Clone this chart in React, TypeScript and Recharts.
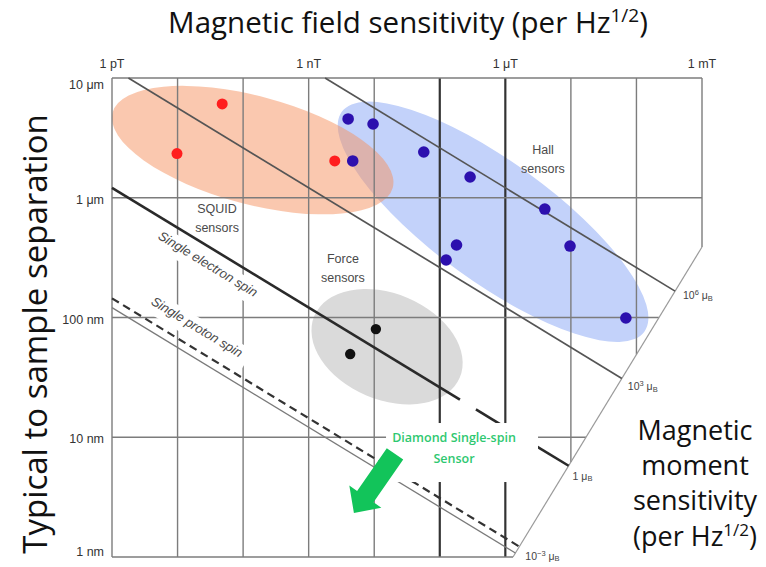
import React from 'react';
import { ScatterChart, Scatter, XAxis, YAxis } from 'recharts';

// ---------- data (magnetic field in nT, separation in nm) ----------
const fieldTicks = [1e-3, 1, 1e3, 1e6];
const fieldTickLabels = ['1 pT', '1 nT', '1 μT', '1 mT'];
const separationTicks = [1, 10, 100, 1000, 10000];
const separationTickLabels = ['1 nm', '10 nm', '100 nm', '1 μm', '10 μm'];

const squidSensors = [
  { x: 0.0098, y: 2340 },
  { x: 0.048, y: 6070 },
  { x: 2.5, y: 2030 },
];
const hallSensors = [
  { x: 4.0, y: 4550 },
  { x: 9.6, y: 4130 },
  { x: 4.7, y: 2030 },
  { x: 57, y: 2410 },
  { x: 290, y: 1490 },
  { x: 4000, y: 805 },
  { x: 180, y: 403 },
  { x: 125, y: 302 },
  { x: 9700, y: 395 },
  { x: 69000, y: 99 },
];
const forceSensors = [
  { x: 10.6, y: 80 },
  { x: 4.3, y: 49.5 },
];

const squidRegion = [{ x: 0.14, y: 2500 }];
const hallRegion = [{ x: 650, y: 630 }];
const forceRegion = [{ x: 15.7, y: 57 }];

// grid lines (clipped by the slanted moment axis)
const fieldGridLines = [
  { field: 1e-3, top: 1e4, bottom: 1 },
  { field: 1e-2, top: 1e4, bottom: 1 },
  { field: 1e-1, top: 1e4, bottom: 1 },
  { field: 1, top: 1e4, bottom: 1 },
  { field: 10, top: 1e4, bottom: 1 },
  { field: 100, top: 1e4, bottom: 1 },
  { field: 1e3, top: 1e4, bottom: 1 },
  { field: 1e4, top: 1e4, bottom: 6.2 },
  { field: 1e5, top: 1e4, bottom: 49 },
  { field: 1e6, top: 1e4, bottom: 388 },
];
const separationGridLines = [
  { sep: 1e4, left: 1e-3, right: 1e6 },
  { sep: 1e3, left: 1e-3, right: 1e6 },
  { sep: 100, left: 1e-3, right: 2.2e5 },
  { sep: 10, left: 1e-3, right: 1.7e4 },
  { sep: 1, left: 1e-3, right: 1309 },
];
const momentAxisLine = [
  { x: 1e6, y: 388 },
  { x: 1309, y: 1 },
];

// constant magnetic-moment lines
const moment1e6 = [
  { x: 1.78, y: 10000 },
  { x: 388000, y: 166 },
];
const moment1e3 = [
  { x: 0.00178, y: 10000 },
  { x: 59900, y: 31 },
];
const electronSpinA = [
  { x: 0.001, y: 1211 },
  { x: 203, y: 20.6 },
];
const electronSpinB = [
  { x: 356, y: 17.1 },
  { x: 1000, y: 12.1 },
];
const electronSpinC = [
  { x: 2830, y: 8.56 },
  { x: 9230, y: 5.78 },
];
const momentMinus3 = [
  { x: 0.001, y: 121 },
  { x: 1422, y: 1.08 },
];
const protonSpin = [
  { x: 0.001, y: 144.5 },
  { x: 1641, y: 1.22 },
];

const momentTickLabels = [
  { x: 388000, y: 166, exp: '6' },
  { x: 59900, y: 31, exp: '3' },
  { x: 9230, y: 5.78, exp: '' },
  { x: 1422, y: 1.08, exp: '−3' },
];

const sensorLabels = [
  { x: 0.04, y: 690, lines: ['SQUID', 'sensors'] },
  { x: 3.33, y: 264, lines: ['Force', 'sensors'] },
  { x: 3750, y: 2150, lines: ['Hall', 'sensors'] },
];
const spinLabels = [
  { x: 0.0291, y: 280, text: 'Single electron spin' },
  { x: 0.0198, y: 83.4, text: 'Single proton spin' },
];
const diamondLabel = [{ x: 165, y: 8.13, lines: ['Diamond Single-spin', 'Sensor'] }];
const arrowTip = [{ x: 4.9, y: 2.33 }];

// ---------- styles ----------
const TITLE_FONT = '"Open Sans", "DejaVu Sans", sans-serif';
const AXIS_FONT = '"Liberation Sans", Arial, sans-serif';
const GRID = '#7c7c7c';
const GRID_DARK = '#333';
const darkGridFields = [100, 1000];
const SLOPE_DEG = 31.3;
// label offsets (px) next to the slanted moment axis, in the order of momentTickLabels
const momentLabelOffsets = [
  [8, 8],
  [6, 12],
  [4, 14],
  [10, 7],
];

const noShape = () => <g />;

function lineSeries(key: string, data: any[], stroke: string, width: number, dash?: string) {
  return (
    <Scatter
      key={key}
      data={data}
      fill={stroke}
      line={{ stroke, strokeWidth: width, strokeDasharray: dash, fill: 'none' }}
      shape={noShape}
      isAnimationActive={false}
      legendType="none"
    />
  );
}

const ellipseShape = (rx: number, ry: number, angle: number, fill: string, opacity: number) => (p: any) =>
  (
    <ellipse
      cx={p.cx}
      cy={p.cy}
      rx={rx}
      ry={ry}
      transform={`rotate(${angle} ${p.cx} ${p.cy})`}
      fill={fill}
      fillOpacity={opacity}
    />
  );

const dotShape = (r: number, fill: string) => (p: any) => <circle cx={p.cx} cy={p.cy} r={r} fill={fill} />;

const sensorLabelShape = (p: any) => (
  <text x={p.cx} y={p.cy} textAnchor="middle" fontFamily={AXIS_FONT} fontSize={12.5} fill="#4a4a4a">
    {p.payload.lines.map((l: string, i: number) => (
      <tspan key={i} x={p.cx} dy={i === 0 ? -4 : 19}>
        {l}
      </tspan>
    ))}
  </text>
);

const spinLabelShape = (p: any) => (
  <g transform={`translate(${p.cx},${p.cy}) rotate(${SLOPE_DEG})`}>
    <rect x={-60} y={-9} width={120} height={22} fill="#fff" />
    <text
      x={0}
      y={0}
      textAnchor="middle"
      dominantBaseline="central"
      fontFamily={AXIS_FONT}
      fontStyle="italic"
      fontSize={13}
      fill="#4a4a4a"
    >
      {p.payload.text}
    </text>
  </g>
);

const diamondShape = (p: any) => (
  <g>
    <rect x={p.cx - 68} y={p.cy - 25} width={152} height={59} fill="#fff" />
    <text textAnchor="middle" fontFamily={TITLE_FONT} fontWeight={600} fontSize={12.5} fill="#2ec870">
      <tspan x={p.cx} y={p.cy - 6}>
        {p.payload.lines[0]}
      </tspan>
      <tspan x={p.cx} y={p.cy + 15}>
        {p.payload.lines[1]}
      </tspan>
    </text>
  </g>
);

const arrowShape = (p: any) => (
  <polygon
    transform={`translate(${p.cx},${p.cy}) rotate(124.8)`}
    points="0,0 -20,-19.5 -20,-10 -72,-10 -72,10 -20,10 -20,19.5"
    fill="#12c45a"
  />
);

const momentLabelShape = (p: any) => {
  const [dx, dy] = momentLabelOffsets[p.index] || [6, 10];
  return (
    <text x={p.cx + dx} y={p.cy + dy} fontFamily={AXIS_FONT} fontSize={10.5} fill="#444">
      {p.payload.exp ? (
        <>
          10<tspan dy={-4} fontSize={7.5}>{p.payload.exp}</tspan>
          <tspan dy={4}> μ</tspan>
        </>
      ) : (
        <>1 μ</>
      )}
      <tspan dy={1.5} fontSize={7.5}>B</tspan>
    </text>
  );
};

const XTick = (props: any) => {
  const { x, y, payload } = props;
  const idx = fieldTicks.indexOf(payload.value);
  return (
    <text x={x} y={y} dy={-2} textAnchor="middle" fontFamily={AXIS_FONT} fontSize={12.5} fill="#333">
      {fieldTickLabels[idx]}
    </text>
  );
};

const YTick = (props: any) => {
  const { x, y, payload } = props;
  const idx = separationTicks.indexOf(payload.value);
  const shift = idx === separationTicks.length - 1 ? 7 : idx === 0 ? -5 : 2;
  return (
    <text
      x={x}
      y={y + shift}
      textAnchor="end"
      dominantBaseline="central"
      fontFamily={AXIS_FONT}
      fontSize={12.5}
      fill="#333"
    >
      {separationTickLabels[idx]}
    </text>
  );
};

export default function App() {
  return (
    <div style={{ position: 'absolute', left: 0, top: 0, width: 766, height: 567, background: '#fff' }}>
      <ScatterChart width={766} height={567} margin={{ top: 48, right: 64, bottom: 10, left: 62 }}>
        <XAxis
          dataKey="x"
          type="number"
          scale="log"
          domain={[1e-3, 1e6]}
          ticks={fieldTicks}
          orientation="top"
          height={30}
          axisLine={false}
          tickLine={false}
          tick={<XTick />}
          interval={0}
        />
        <YAxis
          dataKey="y"
          type="number"
          scale="log"
          domain={[1, 1e4]}
          ticks={separationTicks}
          width={50}
          axisLine={false}
          tickLine={false}
          tick={<YTick />}
          interval={0}
        />

        {/* sensor regions */}
        <Scatter data={hallRegion} shape={ellipseShape(187, 60, 36, '#c3d2fa', 1)} isAnimationActive={false} legendType="none" />
        <Scatter data={squidRegion} shape={ellipseShape(145, 54, 15, 'rgb(245,145,95)', 0.5)} isAnimationActive={false} legendType="none" />
        <Scatter data={forceRegion} shape={ellipseShape(79, 53, 23, '#dadada', 1)} isAnimationActive={false} legendType="none" />

        {/* grid */}
        {fieldGridLines.map((g, i) =>
          lineSeries(
            `fg${i}`,
            [
              { x: g.field, y: g.top },
              { x: g.field, y: g.bottom },
            ],
            darkGridFields.includes(g.field) ? GRID_DARK : GRID,
            darkGridFields.includes(g.field) ? 2.2 : 1.4
          )
        )}
        {separationGridLines.map((g, i) =>
          lineSeries(
            `sg${i}`,
            [
              { x: g.left, y: g.sep },
              { x: g.right, y: g.sep },
            ],
            GRID,
            1.4
          )
        )}
        {lineSeries('axis', momentAxisLine, '#9a9a9a', 1.2)}

        {/* moment lines */}
        {lineSeries('m6', moment1e6, '#555', 1.7)}
        {lineSeries('m3', moment1e3, '#555', 1.7)}
        {lineSeries('eA', electronSpinA, '#2a2a2a', 2.6)}
        {lineSeries('eB', electronSpinB, '#2a2a2a', 2.6)}
        {lineSeries('eC', electronSpinC, '#2a2a2a', 2.6)}
        {lineSeries('mm3', momentMinus3, '#7a7a7a', 1.3)}
        {lineSeries('p', protonSpin, '#333', 2.2, '8 5')}

        {/* labels */}
        <Scatter data={spinLabels} shape={spinLabelShape} isAnimationActive={false} legendType="none" />
        <Scatter data={sensorLabels} shape={sensorLabelShape} isAnimationActive={false} legendType="none" />
        <Scatter data={diamondLabel} shape={diamondShape} isAnimationActive={false} legendType="none" />
        <Scatter data={momentTickLabels} shape={momentLabelShape} isAnimationActive={false} legendType="none" />

        {/* sensors */}
        <Scatter data={squidSensors} shape={dotShape(5.5, '#ff1e1e')} isAnimationActive={false} legendType="none" />
        <Scatter data={hallSensors} shape={dotShape(5.8, '#2c10ae')} isAnimationActive={false} legendType="none" />
        <Scatter data={forceSensors} shape={dotShape(5.2, '#111')} isAnimationActive={false} legendType="none" />

        <Scatter data={arrowTip} shape={arrowShape} isAnimationActive={false} legendType="none" />
      </ScatterChart>

      <svg
        width={766}
        height={567}
        style={{ position: 'absolute', left: 0, top: 0, pointerEvents: 'none' }}
        fontFamily={TITLE_FONT}
        fill="#111"
      >
        <text x={408} y={33} textAnchor="middle" fontSize={29.5}>
          Magnetic field sensitivity (per Hz<tspan dy={-11} fontSize={19}>1/2</tspan>
          <tspan dy={11}>)</tspan>
        </text>
        <text transform="translate(47,334) rotate(-90)" textAnchor="middle" fontSize={33}>
          Typical to sample separation
        </text>
        <text textAnchor="middle" fontSize={27}>
          <tspan x={695} y={440}>Magnetic</tspan>
          <tspan x={695} y={475}>moment</tspan>
          <tspan x={695} y={510}>sensitivity</tspan>
          <tspan x={695} y={546}>
            (per Hz<tspan dy={-10} fontSize={17}>1/2</tspan>
            <tspan dy={10}>)</tspan>
          </tspan>
        </text>
      </svg>
    </div>
  );
}
